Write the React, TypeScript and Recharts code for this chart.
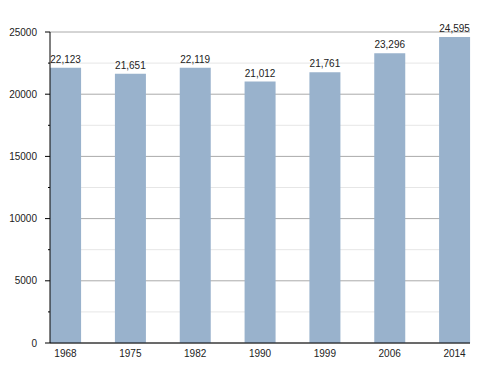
import React from 'react';
import { BarChart, Bar, XAxis, YAxis, CartesianGrid, LabelList } from 'recharts';

const years = ['1968', '1975', '1982', '1990', '1999', '2006', '2014'];
const population = [22123, 21651, 22119, 21012, 21761, 23296, 24595];
const yTicks = [0, 2500, 5000, 7500, 10000, 12500, 15000, 17500, 20000, 22500, 25000];
const majorTicks = [0, 5000, 10000, 15000, 20000, 25000];
const minorTicks = [2500, 7500, 12500, 17500, 22500];

const data = years.map((y, i) => ({ year: y, value: population[i] }));

const FONT = '"Liberation Sans", Arial, Helvetica, sans-serif';

const YTick = (props: any) => {
  const { x, y, payload } = props;
  const v = payload.value as number;
  const major = v % 5000 === 0;
  return (
    <g>
      <line x1={x - (major ? 5 : 2)} x2={x} y1={y} y2={y} stroke="#000" strokeWidth={1} />
      {major && (
        <text x={x - 13} y={y} dy="0.35em" textAnchor="end" fontSize={10} fontFamily={FONT} fill="#222">
          {v}
        </text>
      )}
    </g>
  );
};

const XTick = (props: any) => {
  const { x, y, payload } = props;
  return (
    <text x={x} y={y + 12} textAnchor="middle" fontSize={10} fontFamily={FONT} fill="#222">
      {payload.value}
    </text>
  );
};

export default function App() {
  return (
    <div style={{ position: 'absolute', left: 0, top: 0, width: 500, height: 373, background: '#fff' }}>
      <BarChart
        width={500}
        height={373}
        data={data}
        margin={{ top: 32, right: 30, bottom: 0, left: 0 }}
      >
        <CartesianGrid vertical={false} horizontalValues={minorTicks} stroke="#e6e6e6" />
        <CartesianGrid vertical={false} horizontalValues={majorTicks} stroke="#aaaaaa" />
        <XAxis
          dataKey="year"
          height={30}
          tickLine={false}
          tickSize={0}
          tick={<XTick />}
          axisLine={{ stroke: '#000', strokeWidth: 1 }}
          padding={{ left: -16.92, right: -16.92 }}
          interval={0}
        />
        <YAxis
          width={50}
          domain={[0, 25000]}
          ticks={yTicks}
          interval={0}
          tickLine={false}
          tickSize={0}
          tickMargin={0}
          tick={<YTick />}
          axisLine={{ stroke: '#000', strokeWidth: 1 }}
        />
        <Bar dataKey="value" fill="#99b2cc" barSize={31} isAnimationActive={false}>
          <LabelList
            dataKey="value"
            position="top"
            offset={5}
            formatter={(v: any) => Number(v).toLocaleString('en-US')}
            style={{ fontSize: 10, fontFamily: FONT, fill: '#222' }}
          />
        </Bar>
      </BarChart>
    </div>
  );
}
